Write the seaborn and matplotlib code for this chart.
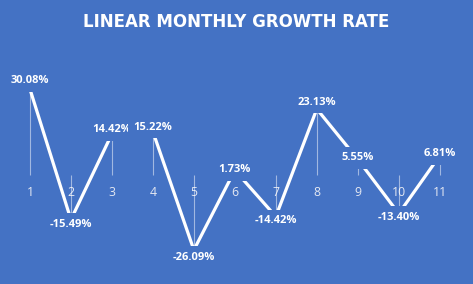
import matplotlib
matplotlib.use("Agg")
import matplotlib.pyplot as plt
import seaborn as sns
import pandas as pd

# ---- data ----
months = [1, 2, 3, 4, 5, 6, 7, 8, 9, 10, 11]
growth = [30.08, -15.49, 14.42, 15.22, -26.09, 1.73, -14.42, 23.13, 5.55, -13.40, 6.81]
labels = ["30.08%", "-15.49%", "14.42%", "15.22%", "-26.09%", "1.73%",
          "-14.42%", "23.13%", "5.55%", "-13.40%", "6.81%"]
title = "LINEAR MONTHLY GROWTH RATE"

BG = "#4472C4"

sns.set_theme(style="white")
plt.rcParams["font.family"] = ["Open Sans", "DejaVu Sans"]

df = pd.DataFrame({"month": months, "growth": growth})

fig = plt.figure(figsize=(4.73, 2.84), dpi=100, facecolor=BG)
ax = fig.add_axes([0.020, 0.030, 0.953, 0.706])
ax.set_facecolor(BG)

# drop lines
ax.vlines(df["month"], 0, df["growth"], colors="white", alpha=0.5, linewidth=0.8, zorder=1)

sns.lineplot(data=df, x="month", y="growth", ax=ax, color="white", linewidth=2.3,
             zorder=2, legend=False)

for m, v, t in zip(months, growth, labels):
    ax.text(m, v * 1.1, t, ha="center", va="center", color="white", fontsize=8,
            fontweight="bold", zorder=3,
            bbox=dict(boxstyle="square,pad=0.5", facecolor=BG, edgecolor="none"))

ax.set_xlim(months[0] - 0.5, months[-1] + 0.5)
ax.set_ylim(-35, 35)
ax.set_xticks(months)
ax.set_xticklabels([str(m) for m in months])
ax.set_yticks([])
ax.set_xlabel("")
ax.set_ylabel("")
for s in ["top", "right", "left"]:
    ax.spines[s].set_visible(False)
ax.spines["bottom"].set_position(("data", 0))
ax.spines["bottom"].set_visible(False)
ax.tick_params(axis="x", length=0, pad=7.5, labelsize=8.8, labelcolor="#E4E8F2")

fig.text(0.5, 0.922, title, ha="center", va="center", color="white",
         fontsize=12, fontweight="bold", family=["DejaVu Sans"])

fig.savefig("out.png", dpi=100, facecolor=BG)
